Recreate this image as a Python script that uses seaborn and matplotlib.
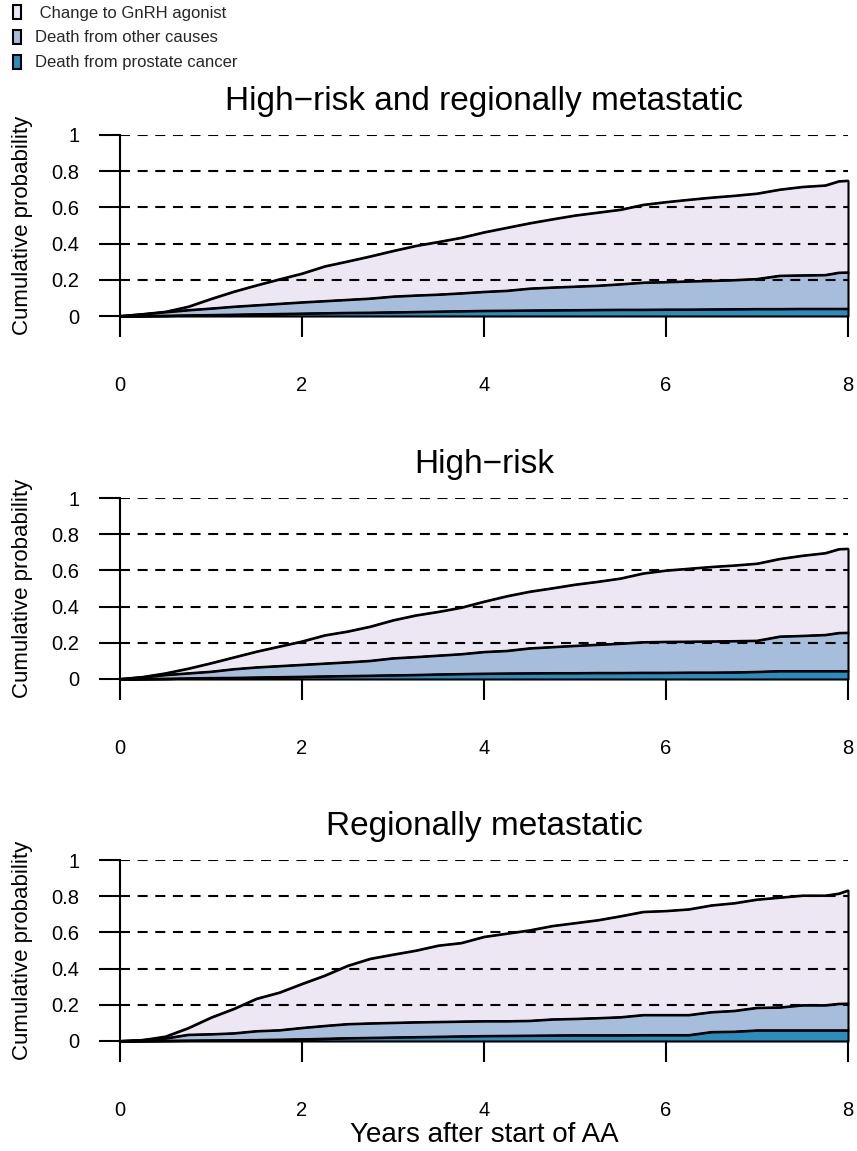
import matplotlib
matplotlib.use("Agg")
import matplotlib.pyplot as plt
import numpy as np
import pandas as pd
import seaborn as sns
from matplotlib.patches import Patch

# Time grid (years after start of AA)
years = [0, 0.25, 0.5, 0.75, 1, 1.25, 1.5, 1.75, 2, 2.25, 2.5, 2.75, 3, 3.25,
         3.5, 3.75, 4, 4.25, 4.5, 4.75, 5, 5.25, 5.5, 5.75, 6, 6.25, 6.5, 6.75,
         7, 7.25, 7.5, 7.75, 7.9, 8]

# Stacked cumulative probabilities per cohort:
#   pca       - death from prostate cancer
#   any_death - death from prostate cancer or other causes
#   any_event - any death or change to GnRH agonist
hr_rm_pca = [0, 0.001, 0.002, 0.004, 0.006, 0.008, 0.010, 0.012, 0.014, 0.016,
             0.018, 0.019, 0.021, 0.023, 0.025, 0.027, 0.029, 0.030, 0.031,
             0.032, 0.033, 0.034, 0.035, 0.035, 0.036, 0.036, 0.037, 0.038,
             0.039, 0.039, 0.040, 0.040, 0.040, 0.040]
hr_rm_any_death = [0, 0.010, 0.022, 0.033, 0.042, 0.052, 0.060, 0.068, 0.076,
                   0.083, 0.090, 0.097, 0.108, 0.114, 0.119, 0.126, 0.134,
                   0.140, 0.152, 0.158, 0.163, 0.168, 0.176, 0.185, 0.188,
                   0.192, 0.195, 0.199, 0.205, 0.223, 0.225, 0.227, 0.240, 0.241]
hr_rm_any_event = [0, 0.011, 0.024, 0.052, 0.095, 0.135, 0.170, 0.203, 0.235,
                   0.275, 0.302, 0.330, 0.360, 0.388, 0.410, 0.433, 0.463,
                   0.488, 0.513, 0.535, 0.556, 0.572, 0.588, 0.615, 0.630,
                   0.643, 0.655, 0.665, 0.677, 0.699, 0.714, 0.722, 0.745, 0.748]

hr_pca = [0, 0.001, 0.002, 0.004, 0.006, 0.007, 0.009, 0.011, 0.013, 0.015,
          0.017, 0.019, 0.021, 0.023, 0.026, 0.028, 0.030, 0.031, 0.032, 0.033,
          0.033, 0.034, 0.034, 0.035, 0.035, 0.036, 0.036, 0.037, 0.040, 0.044,
          0.044, 0.044, 0.044, 0.044]
hr_any_death = [0, 0.010, 0.023, 0.032, 0.041, 0.055, 0.065, 0.072, 0.079,
                0.086, 0.093, 0.101, 0.115, 0.122, 0.130, 0.138, 0.150, 0.156,
                0.170, 0.177, 0.184, 0.190, 0.196, 0.204, 0.206, 0.207, 0.208,
                0.210, 0.212, 0.235, 0.239, 0.244, 0.255, 0.256]
hr_any_event = [0, 0.012, 0.032, 0.058, 0.088, 0.120, 0.152, 0.180, 0.208,
                0.242, 0.263, 0.290, 0.325, 0.352, 0.372, 0.395, 0.428, 0.458,
                0.483, 0.502, 0.522, 0.538, 0.556, 0.584, 0.600, 0.610, 0.620,
                0.628, 0.638, 0.664, 0.682, 0.696, 0.718, 0.720]

rm_pca = [0, 0.001, 0.002, 0.003, 0.004, 0.005, 0.006, 0.008, 0.010, 0.013,
          0.016, 0.018, 0.020, 0.022, 0.024, 0.026, 0.028, 0.029, 0.030, 0.031,
          0.032, 0.032, 0.032, 0.033, 0.033, 0.033, 0.050, 0.052, 0.059, 0.059,
          0.059, 0.059, 0.059, 0.059]
rm_any_death = [0, 0.006, 0.015, 0.035, 0.038, 0.043, 0.055, 0.060, 0.073,
                0.084, 0.094, 0.098, 0.101, 0.104, 0.106, 0.108, 0.110, 0.110,
                0.112, 0.120, 0.123, 0.127, 0.132, 0.144, 0.144, 0.144, 0.160,
                0.167, 0.184, 0.186, 0.198, 0.198, 0.206, 0.207]
rm_any_event = [0, 0.006, 0.025, 0.072, 0.130, 0.178, 0.234, 0.268, 0.316,
                0.362, 0.416, 0.455, 0.478, 0.500, 0.528, 0.542, 0.576, 0.594,
                0.612, 0.636, 0.652, 0.668, 0.690, 0.714, 0.719, 0.728, 0.750,
                0.762, 0.782, 0.793, 0.804, 0.804, 0.815, 0.832]

panel_titles = ["High\u2212risk and regionally metastatic",
                "High\u2212risk",
                "Regionally metastatic"]
panel_data = [(hr_rm_pca, hr_rm_any_death, hr_rm_any_event),
              (hr_pca, hr_any_death, hr_any_event),
              (rm_pca, rm_any_death, rm_any_event)]

legend_labels = [" Change to GnRH agonist", "Death from other causes",
                 "Death from prostate cancer"]
fill_colors = ["#ece7f2", "#a6bddb", "#2b8cbe"]  # GnRH, other, prostate

x_ticks = [0, 2, 4, 6, 8]
y_ticks = [0, 0.2, 0.4, 0.6, 0.8, 1]
y_tick_labels = ["0", "0.2", "0.4", "0.6", "0.8", "1"]

sns.set_theme(style="white")
plt.rcParams["font.family"] = ["Liberation Sans", "DejaVu Sans"]
plt.rcParams["lines.scale_dashes"] = False

W, H = 857, 1151
fig = plt.figure(figsize=(W / 100, H / 100), dpi=100)

# panel geometry in pixels: y of value 0 and value 1
y_zero = [316, 679, 1041]
y_one = [135, 498, 860]
x_left, x_right = 120, 848

for k, (title, (pca, any_death, any_event)) in enumerate(zip(panel_titles, panel_data)):
    ax = fig.add_axes([x_left / W, (H - y_zero[k]) / H,
                       (x_right - x_left) / W, (y_zero[k] - y_one[k]) / H])
    t = np.asarray(years)
    lo = np.asarray(pca)
    mid = np.asarray(any_death)
    hi = np.asarray(any_event)

    # stacked areas, outlined in black like closed polygons
    for y0, y1, col in [(mid, hi, fill_colors[0]), (lo, mid, fill_colors[1]),
                        (np.zeros_like(t), lo, fill_colors[2])]:
        ax.fill_between(t, y0, y1, facecolor=col, edgecolor="black",
                        linewidth=1.5, clip_on=False, zorder=1)

    long = pd.DataFrame({
        "years": np.concatenate([t, t, t]),
        "prob": np.concatenate([lo, mid, hi]),
        "curve": np.repeat(["pca", "any_death", "any_event"], len(t)),
    })
    sns.lineplot(data=long, x="years", y="prob", units="curve", estimator=None,
                 color="black", linewidth=1.5, ax=ax, clip_on=False, zorder=2,
                 legend=False)

    for v in y_ticks[1:]:
        ax.axhline(v, color="black", linewidth=1.5, linestyle=(0, (7.2, 5.5)),
                   zorder=3)

    ax.set_xlim(0, 8)
    ax.set_ylim(0, 1)
    ax.set_xticks(x_ticks)
    ax.set_xticklabels([str(v) for v in x_ticks])
    ax.set_yticks(y_ticks)
    ax.set_yticklabels(y_tick_labels)
    ax.tick_params(axis="both", which="major", direction="out", length=15,
                   width=1.5, color="black", labelsize=14.5,
                   labelcolor="black", bottom=True, left=True,
                   top=False, right=False)
    ax.tick_params(axis="x", pad=28)
    ax.tick_params(axis="y", pad=14.4)
    for side in ["top", "right", "bottom"]:
        ax.spines[side].set_visible(False)
    ax.spines["left"].set_linewidth(1.5)
    ax.spines["left"].set_color("black")
    ax.set_facecolor("none")
    ax.grid(False)

    ax.set_title(title, fontsize=24, pad=18, color="black")
    ax.set_ylabel("Cumulative probability", fontsize=16, color="black")
    ax.yaxis.set_label_coords((33 - x_left) / (x_right - x_left), 0.5)
    if k == 2:
        ax.set_xlabel("Years after start of AA", fontsize=20, color="black")
        ax.xaxis.label.set_va("baseline")
        ax.xaxis.set_label_coords(0.5, (y_zero[k] - 1142) / (y_zero[k] - y_one[k]))
    else:
        ax.set_xlabel("")

handles = [Patch(facecolor=c, edgecolor="black", linewidth=1.5) for c in fill_colors]
fig.legend(handles, legend_labels, loc="upper left",
           bbox_to_anchor=(13 / W, 1 - 5 / H), frameon=False, fontsize=12,
           handlelength=0.5, handleheight=0.9, handletextpad=0.8,
           labelspacing=0.55, borderpad=0, borderaxespad=0)

fig.savefig("out.png", dpi=100)
